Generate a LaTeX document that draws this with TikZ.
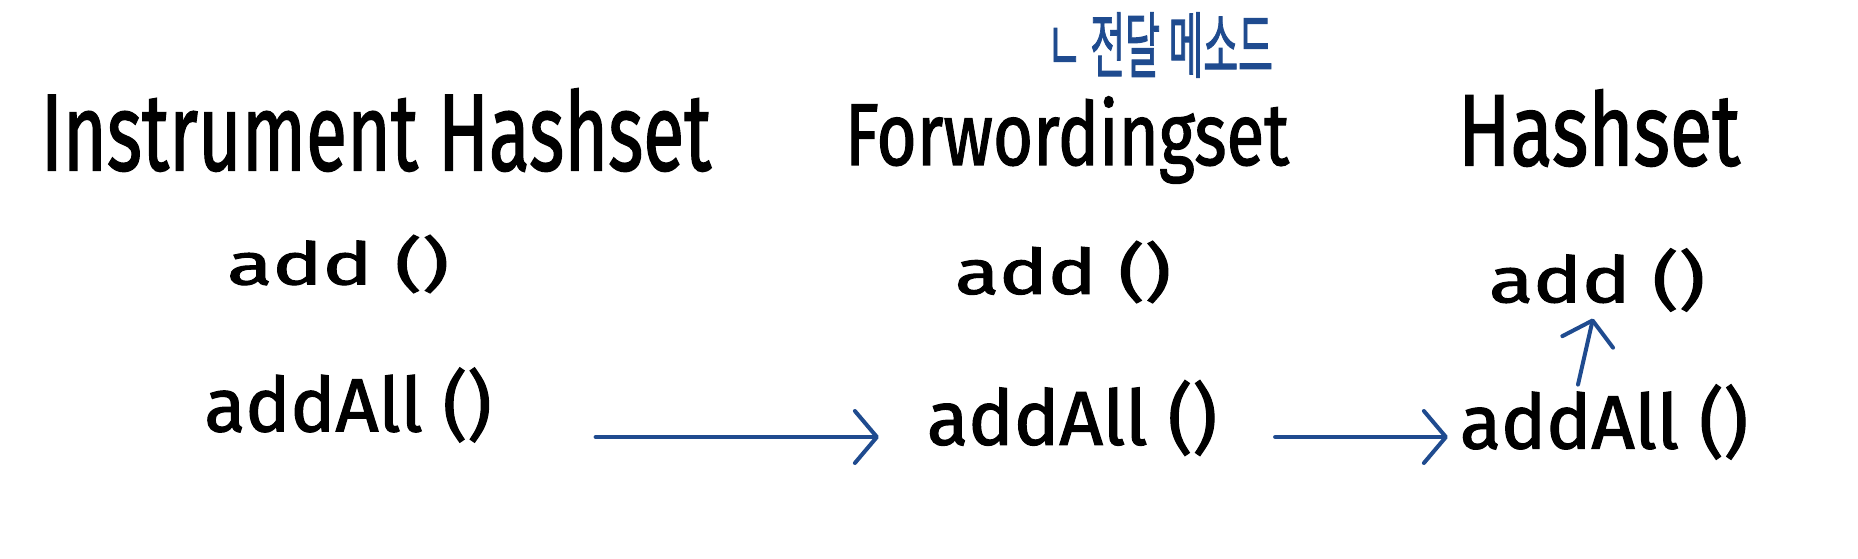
\documentclass[tikz,border=0pt]{standalone}
\usepackage{fontspec}
\setmainfont{Fira Sans}
\newfontfamily\handfont{Fira Sans}[FakeBold=1.6]
\newfontfamily\kofont{Noto Sans CJK KR}[FakeBold=1.8]
\usetikzlibrary{arrows.meta}
\definecolor{penblue}{HTML}{1F4B8F}
\newcommand{\hw}[3]{\resizebox*{#1pt}{#2pt}{#3}}
\newcommand{\hx}[2]{\resizebox{#1pt}{!}{#2}}
\tikzset{
  hand/.style={inner sep=0pt, outer sep=0pt, text=black, font=\handfont},
  note/.style={inner sep=0pt, outer sep=0pt, text=penblue, font=\kofont},
  flow/.style={draw=penblue, line width=4pt, line cap=round,
    -{Straight Barb[length=22pt, width=52pt, line width=4pt, round]}},
}
\begin{document}
\begin{tikzpicture}[x=1pt, y=-1pt]
\useasboundingbox[fill=white] (0,0) rectangle (1858,558);
% titles
\node[hand] (tI) at (376,130) {\hw{670}{83}{Instrument Hashset}};
\node[hand] (tF) at (1067,140) {\hw{444}{87}{Forwordingset}};
\node[hand] (tH) at (1599,128) {\hw{282}{77}{Hashset}};
\node[note] (memo) at (1160,45) {\hw{226}{65}{ㄴ 전달 메소드}};
% methods
\node[hand] (lD) at (338,264) {\hw{222}{58}{add ()}};
\node[hand] (mD) at (1063,272) {\hw{216}{62}{add ()}};
\node[hand] (rD) at (1597,280) {\hw{216}{63}{add ()}};
\node[hand] (lA) at (348,405) {\hx{287}{addAll ()}};
\node[hand] (mA) at (1072,418) {\hx{290}{addAll ()}};
\node[hand] (rA) at (1604,422) {\hx{288}{addAll ()}};
% connectors
\draw[flow] ([xshift=104pt, yshift=-32pt]lA.east) -- ([xshift=-48pt, yshift=-19pt]mA.west);
\draw[flow] ([xshift=58pt, yshift=-19pt]mA.east) -- ([xshift=-12pt, yshift=-15pt]rA.west);
\draw[flow] ([xshift=-26pt, yshift=0pt]rA.north) -- ([xshift=-4pt, yshift=-7pt]rD.south);
\end{tikzpicture}
\end{document}
